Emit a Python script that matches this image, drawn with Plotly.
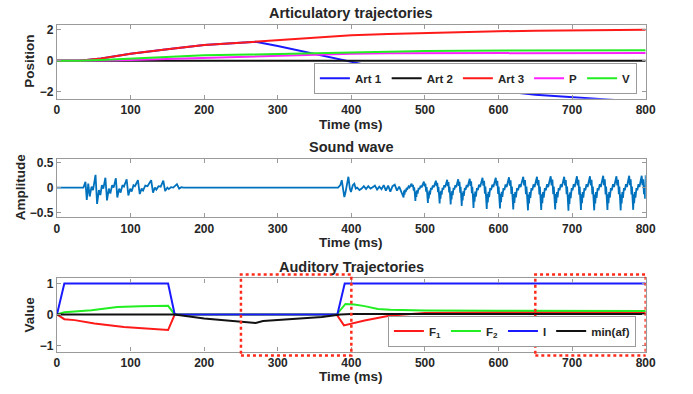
import numpy as np
import plotly.graph_objects as go

# ---------------- Articulatory trajectories ----------------
t_art = [0, 30, 60, 100, 150, 200, 260, 270, 300, 350, 400, 450, 500, 550, 600, 650, 700, 750, 800]
art1 = [0, 0, 0.15, 0.45, 0.75, 1.02, 1.2, 1.22, 0.95, 0.45, -0.05, -0.58, -1.08, -1.5, -1.92, -2.18, -2.36, -2.52, -2.65]
art2 = [0] * len(t_art)
art3 = [0, 0, 0.15, 0.45, 0.75, 1.02, 1.2, 1.23, 1.33, 1.5, 1.64, 1.73, 1.8, 1.86, 1.9, 1.93, 1.96, 1.98, 1.99]
p_art = [0, 0, 0.02, 0.05, 0.12, 0.19, 0.26, 0.27, 0.31, 0.38, 0.45, 0.48, 0.49, 0.5, 0.5, 0.51, 0.51, 0.51, 0.51]
v_art = [0, 0, 0.06, 0.15, 0.27, 0.35, 0.4, 0.41, 0.45, 0.52, 0.57, 0.61, 0.63, 0.65, 0.66, 0.67, 0.67, 0.68, 0.68]

# ---------------- Sound wave ----------------
# first (voiceless-to-vowel) burst: turning points of the waveform
burst_t = [0, 36, 38.7, 40.5, 42.5, 44.5, 47, 49, 52.4, 54.5, 57, 59, 61, 63, 65.8, 68, 70.5, 72.5, 75, 77,
           80, 82, 84.5, 86.5, 89, 91, 94.7, 97, 99.5, 101.5, 104, 106, 110, 112.5, 115, 117, 120, 123,
           128, 130.5, 133, 135, 138, 141, 144.5, 147, 150, 152, 155, 158, 163, 166, 169, 172]
burst_v = [0, 0, 0.12, -0.25, 0.08, -0.18, 0.02, -0.05, 0.26, -0.33, -0.05, -0.15, 0.05, -0.02, 0.2, -0.26,
           -0.02, -0.12, 0.05, 0.0, 0.19, -0.2, -0.02, -0.1, 0.05, 0.02, 0.17, -0.16, -0.02, -0.08, 0.05,
           0.03, 0.15, -0.13, -0.02, -0.06, 0.04, 0.03, 0.15, -0.1, 0.0, -0.04, 0.03, 0.02, 0.14, -0.07,
           0.0, -0.03, 0.01, 0.0, 0.07, -0.02, 0.01, 0.0]
# onset of the second vowel and the low-level ripple before voicing builds up
onset_t = [382, 385, 387, 389, 390.5, 392, 394, 396, 398, 399.5, 402, 404, 406, 408, 411, 414, 417, 420,
           423, 426, 429, 432, 435, 438, 441, 444, 447, 450, 453, 456, 459, 462, 465]
onset_v = [0, 0.05, 0.15, -0.05, -0.19, -0.1, 0.05, 0.22, -0.02, -0.09, 0.05, 0.08, -0.02, 0.0, -0.05,
           -0.02, 0.03, -0.03, 0.03, -0.02, 0.01, 0.04, -0.04, 0.02, -0.03, 0.05, -0.06, 0.04, -0.08, 0.03,
           0.06, -0.06, 0.02]
# voiced part: time of each pitch-period trough, its depth and the following peak height
cycle_t = [471, 487, 504, 520, 535, 550, 566, 584, 602, 620, 640, 658, 677, 695, 712, 730, 748, 766, 783, 800]
cycle_depth = [0.2, 0.27, 0.31, 0.32, 0.34, 0.37, 0.41, 0.43, 0.42, 0.44, 0.46, 0.45, 0.44, 0.47, 0.45, 0.46, 0.45, 0.46, 0.45]
cycle_peak = [0.08, 0.12, 0.14, 0.16, 0.17, 0.18, 0.2, 0.2, 0.21, 0.22, 0.22, 0.23, 0.22, 0.23, 0.23, 0.24, 0.23, 0.24, 0.24]
end_value = 0.25
# shape of one pitch period: (phase, weight on depth, weight on peak)
period_shape = [(0.00, -1.0, 0), (0.04, -0.3, 0), (0.08, -0.7, 0), (0.13, -0.2, 0), (0.18, -0.45, 0),
                (0.26, -0.02, 0), (0.33, -0.12, 0), (0.42, 0, 0.3), (0.50, 0, 0.05), (0.60, 0, 0.6),
                (0.68, 0, 1.0), (0.74, 0, 0.2), (0.80, 0, 0.7), (0.86, -0.3, 0), (0.90, 0, 0.1),
                (0.95, -0.5, 0)]

wave_t = list(burst_t) + [380] + list(onset_t)
wave_v = list(burst_v) + [0] + list(onset_v)
for i in range(len(cycle_depth)):
    t0, t1 = cycle_t[i], cycle_t[i + 1]
    for ph, wd, wp in period_shape:
        wave_t.append(t0 + ph * (t1 - t0))
        wave_v.append(wd * cycle_depth[i] + wp * cycle_peak[i])
wave_t.append(800)
wave_v.append(end_value)

# ---------------- Auditory trajectories ----------------
t_f1 = [0, 10, 24, 51, 91, 151, 160, 380, 390, 418, 453, 500, 600, 800]
f1 = [0, -0.15, -0.18, -0.29, -0.4, -0.5, 0, 0, -0.35, -0.19, -0.03, 0.05, 0.07, 0.08]
t_f2 = [0, 10, 47, 82, 113, 151, 160, 380, 392, 404, 418, 436, 453, 500, 600, 800]
f2 = [0, 0.07, 0.14, 0.24, 0.27, 0.28, 0, 0, 0.34, 0.32, 0.27, 0.18, 0.15, 0.13, 0.12, 0.11]
t_i = [0, 10, 151, 160, 381, 391, 800]
i_val = [0, 1, 1, 0, 0, 1, 1]
t_min = [0, 160, 200, 240, 265, 270, 280, 300, 330, 360, 385, 400, 800]
min_af = [0, 0, -0.13, -0.2, -0.25, -0.27, -0.21, -0.18, -0.14, -0.08, 0, 0.02, 0.02]

highlight_windows = [(250, 400), (650, 800)]

W, H = 693, 394
BLUE, RED, GREEN, MAG, BLACK = "#1a1aff", "#ff1a1a", "#22ee22", "#ff22ff", "#111111"
FRAME = "#9a9a9a"
TXT = "#262626"
FONT = "Liberation Sans, Arial, sans-serif"

fig = go.Figure()

def add(x, y, name, color, xa, ya, legend=None, width=2):
    fig.add_trace(go.Scatter(x=x, y=y, name=name, mode="lines", line=dict(color=color, width=width),
                             xaxis=xa, yaxis=ya, legend=legend, showlegend=legend is not None,
                             hoverinfo="skip"))

add(t_art, art1, "Art 1", BLUE, "x", "y", "legend")
add(t_art, art2, "Art 2", BLACK, "x", "y", "legend")
add(t_art, art3, "Art 3", RED, "x", "y", "legend")
add(t_art, p_art, "P", MAG, "x", "y", "legend")
add(t_art, v_art, "V", GREEN, "x", "y", "legend")

add(wave_t, wave_v, "wave", "#0072BD", "x2", "y2", None, 1.8)

add(t_f1, f1, "F<sub>1</sub>", RED, "x3", "y3", "legend2")
add(t_f2, f2, "F<sub>2</sub>", GREEN, "x3", "y3", "legend2")
add(t_i, i_val, "I", BLUE, "x3", "y3", "legend2")
add(t_min, min_af, "min(af)", BLACK, "x3", "y3", "legend2")

def py(px):
    return 1 - px / H

xd = [55 / W, 655 / W]
panels = [  # (top px, bottom px, y range, y ticks)
    (22, 97, [-2.44, 2.32], [-2, 0, 2]),
    (158, 217, [-0.6, 0.58], [-0.5, 0, 0.5]),
    (279, 353, [-1.19, 1.16], [-1, 0, 1]),
]
axis_common = dict(showline=True, linecolor=FRAME, linewidth=1.3, mirror="ticks", ticks="inside",
                   ticklen=4, tickcolor=FRAME, showgrid=False, zeroline=False,
                   tickfont=dict(family=FONT, size=12, color=TXT, weight="bold"))
for k, (top, bot, yr, yt) in enumerate(panels):
    sfx = "" if k == 0 else str(k + 1)
    fig.layout["xaxis" + sfx] = dict(domain=xd, range=[0, 800], tickvals=list(range(0, 801, 100)),
                                     anchor="y" + sfx, **axis_common)
    fig.layout["yaxis" + sfx] = dict(domain=[py(bot), py(top)], range=yr, tickvals=yt,
                                     anchor="x" + sfx, **axis_common)

annots = []
def text(x, y, s, size=12.5, angle=0):
    annots.append(dict(x=x / W, y=py(y), xref="paper", yref="paper", text="<b>%s</b>" % s,
                       showarrow=False, xanchor="center", yanchor="middle", textangle=angle,
                       font=dict(family=FONT, size=size, color=TXT)))

text(355, 10, "Articulatory trajectories", 14.5)
text(355, 146, "Sound wave", 14.5)
text(355, 267, "Auditory Trajectories", 14.5)
for y in (123, 243, 378):
    text(355, y, "Time (ms)", 13.5)
text(27, 59, "Position", 13.5, -90)
text(18, 187, "Amplitude", 13.5, -90)
text(27, 315, "Value", 13.5, -90)

shapes = []
for a, b in highlight_windows:
    shapes.append(dict(type="rect", xref="x3", yref="paper", x0=a, x1=b, y0=py(357), y1=py(275),
                       line=dict(color="#ff2a1a", width=2.5, dash="dot"), layer="above"))

legend_style = dict(orientation="h", bgcolor="white", bordercolor=FRAME, borderwidth=1,
                    font=dict(family=FONT, size=11.5, color=TXT, weight="bold"),
                    xanchor="right", yanchor="bottom", itemwidth=30, tracegroupgap=0)

fig.update_layout(
    width=W, height=H, margin=dict(l=0, r=0, t=0, b=0),
    paper_bgcolor="white", plot_bgcolor="white",
    annotations=annots, shapes=shapes,
    legend=dict(x=646 / W, y=py(92), **legend_style),
    legend2=dict(x=645 / W, y=py(348), **legend_style),
)

fig.write_html("out.html")
